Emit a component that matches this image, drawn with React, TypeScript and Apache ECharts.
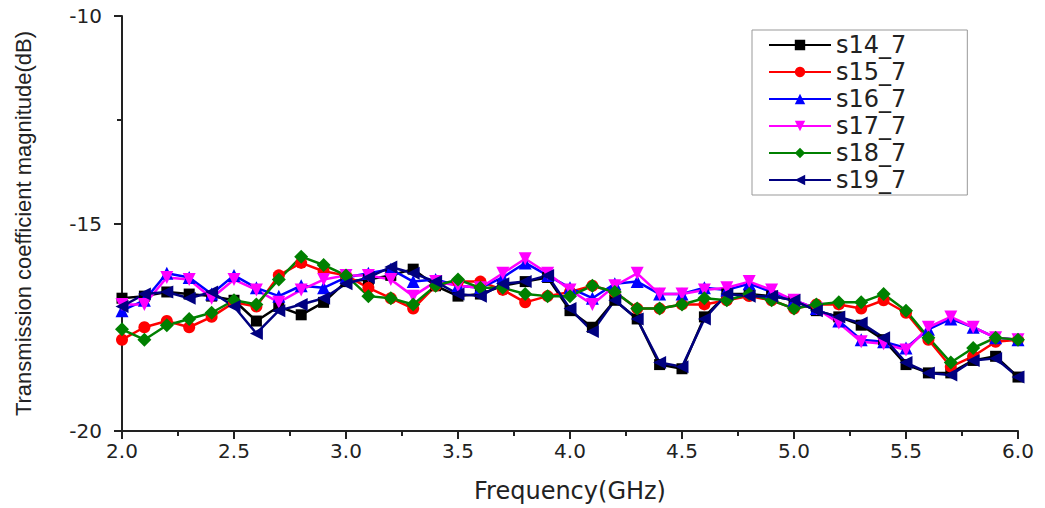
import React, { useEffect, useRef } from "react";
import * as echarts from "echarts";

const freqs = [
  2.0, 2.1, 2.2, 2.3, 2.4, 2.5, 2.6, 2.7, 2.8, 2.9,
  3.0, 3.1, 3.2, 3.3, 3.4, 3.5, 3.6, 3.7, 3.8, 3.9,
  4.0, 4.1, 4.2, 4.3, 4.4, 4.5, 4.6, 4.7, 4.8, 4.9,
  5.0, 5.1, 5.2, 5.3, 5.4, 5.5, 5.6, 5.7, 5.8, 5.9, 6.0,
];

const s14_7 = [
  -16.8, -16.75, -16.65, -16.7, -16.75, -16.85, -17.35, -17.0, -17.2, -16.9,
  -16.4, -16.35, -16.25, -16.1, -16.5, -16.75, -16.7, -16.5, -16.4, -16.3,
  -17.1, -17.5, -16.85, -17.3, -18.4, -18.5, -17.25, -16.7, -16.7, -16.75,
  -16.85, -17.1, -17.25, -17.45, -17.8, -18.4, -18.6, -18.6, -18.3, -18.2, -18.7,
];
const s15_7 = [
  -17.8, -17.5, -17.35, -17.5, -17.25, -16.9, -17.0, -16.25, -15.95, -16.15,
  -16.25, -16.55, -16.8, -17.05, -16.5, -16.4, -16.4, -16.6, -16.9, -16.75,
  -16.65, -16.5, -16.65, -17.05, -17.05, -16.95, -16.95, -16.85, -16.75, -16.85,
  -17.05, -16.95, -16.95, -17.05, -16.85, -17.15, -17.8, -18.45, -18.2, -17.85, -17.8,
];
const s16_7 = [
  -17.1, -16.85, -16.2, -16.3, -16.7, -16.25, -16.55, -16.75, -16.5, -16.55,
  -16.3, -16.2, -16.1, -16.4, -16.35, -16.5, -16.55, -16.3, -15.95, -16.25,
  -16.55, -16.8, -16.45, -16.4, -16.7, -16.7, -16.55, -16.6, -16.45, -16.65,
  -16.85, -17.05, -17.35, -17.8, -17.85, -18.0, -17.55, -17.3, -17.5, -17.75, -17.8,
];
const s17_7 = [
  -16.95, -16.95, -16.3, -16.35, -16.8, -16.35, -16.6, -16.9, -16.6, -16.35,
  -16.25, -16.25, -16.35, -16.75, -16.4, -16.5, -16.55, -16.2, -15.85, -16.2,
  -16.6, -16.95, -16.5, -16.2, -16.7, -16.7, -16.6, -16.55, -16.4, -16.6,
  -16.85, -17.05, -17.4, -17.85, -17.9, -18.05, -17.5, -17.25, -17.5, -17.75, -17.8,
];
const s18_7 = [
  -17.55, -17.8, -17.45, -17.3, -17.15, -16.85, -16.95, -16.35, -15.8, -16.0,
  -16.25, -16.75, -16.8, -16.95, -16.5, -16.35, -16.55, -16.55, -16.7, -16.75,
  -16.75, -16.5, -16.65, -17.05, -17.05, -16.95, -16.8, -16.85, -16.7, -16.85,
  -17.05, -16.95, -16.9, -16.9, -16.7, -17.1, -17.75, -18.35, -18.0, -17.75, -17.8,
];
const s19_7 = [
  -17.0, -16.7, -16.65, -16.8, -16.65, -17.0, -17.65, -17.1, -16.95, -16.8,
  -16.45, -16.3, -16.05, -16.2, -16.4, -16.7, -16.75, -16.45, -16.4, -16.25,
  -17.05, -17.6, -16.85, -17.3, -18.35, -18.45, -17.3, -16.7, -16.75, -16.75,
  -16.85, -17.1, -17.25, -17.4, -17.75, -18.35, -18.6, -18.65, -18.3, -18.25, -18.7,
];

const seriesNames = ["s14_7", "s15_7", "s16_7", "s17_7", "s18_7", "s19_7"];
const seriesValues = [s14_7, s15_7, s16_7, s17_7, s18_7, s19_7];
const seriesColors = ["#000000", "#ff0000", "#0000ff", "#ff00ff", "#008000", "#000080"];
const seriesSymbols = ["rect", "circle", "triangle", "triangle", "diamond", "triangle"];
const seriesSymbolRotate = [0, 0, 0, 180, 0, 90];
const seriesSymbolSize = [11, 12, 13, 13, 14, 13];

const xTitle = "Frequency(GHz)";
const yTitle = "Transmission coefficient magnitude(dB)";

export default function App() {
  const ref = useRef<HTMLDivElement>(null);
  useEffect(() => {
    if (!ref.current) return;
    const chart = echarts.init(ref.current, undefined, { renderer: "svg" });
    const axisColor = "#222";
    chart.setOption({
      animation: false,
      backgroundColor: "#ffffff",
      grid: { left: 122, right: 27, top: 16, bottom: 72, containLabel: false },
      legend: {
        orient: "vertical",
        left: 752,
        top: 30,
        data: seriesNames,
        itemWidth: 62,
        itemHeight: 13,
        itemGap: 3,
        padding: [3, 61, 3, 16],
        borderColor: "#999",
        borderWidth: 1,
        backgroundColor: "#fff",
        textStyle: { fontSize: 24, fontFamily: "DejaVu Sans", color: "#222" },
      },
      xAxis: {
        type: "value",
        min: 2,
        max: 6,
        interval: 0.5,
        name: xTitle,
        nameLocation: "middle",
        nameGap: 48,
        nameTextStyle: { fontSize: 24, fontFamily: "DejaVu Sans", color: axisColor },
        axisLine: { lineStyle: { color: axisColor, width: 2 } },
        axisTick: { show: true, length: 8, lineStyle: { color: axisColor, width: 2 } },
        minorTick: { show: true, splitNumber: 2, length: 5, lineStyle: { color: axisColor, width: 2 } },
        splitLine: { show: false },
        axisLabel: {
          fontSize: 20,
          fontFamily: "DejaVu Sans",
          color: axisColor,
          margin: 10,
          formatter: (v: number) => v.toFixed(1),
        },
      },
      yAxis: {
        type: "value",
        min: -20,
        max: -10,
        interval: 5,
        name: yTitle,
        nameLocation: "middle",
        nameGap: 88,
        nameTextStyle: { fontSize: 22, fontFamily: "Liberation Sans", color: axisColor },
        axisLine: { show: true, lineStyle: { color: axisColor, width: 2 } },
        axisTick: { show: true, length: 8, lineStyle: { color: axisColor, width: 2 } },
        minorTick: { show: true, splitNumber: 2, length: 5, lineStyle: { color: axisColor, width: 2 } },
        splitLine: { show: false },
        axisLabel: { fontSize: 20, fontFamily: "DejaVu Sans", color: axisColor, margin: 20 },
      },
      series: seriesNames.map((name, i) => ({
        name,
        type: "line",
        data: freqs.map((f, j) => [f, seriesValues[i][j]]),
        symbol: seriesSymbols[i],
        symbolRotate: seriesSymbolRotate[i],
        symbolSize: seriesSymbolSize[i],
        showAllSymbol: true,
        lineStyle: { color: seriesColors[i], width: 2.5 },
        itemStyle: { color: seriesColors[i] },
      })),
    });
    return () => chart.dispose();
  }, []);
  return <div ref={ref} style={{ width: 1045, height: 508, position: "absolute", left: 0, top: 0 }} />;
}
